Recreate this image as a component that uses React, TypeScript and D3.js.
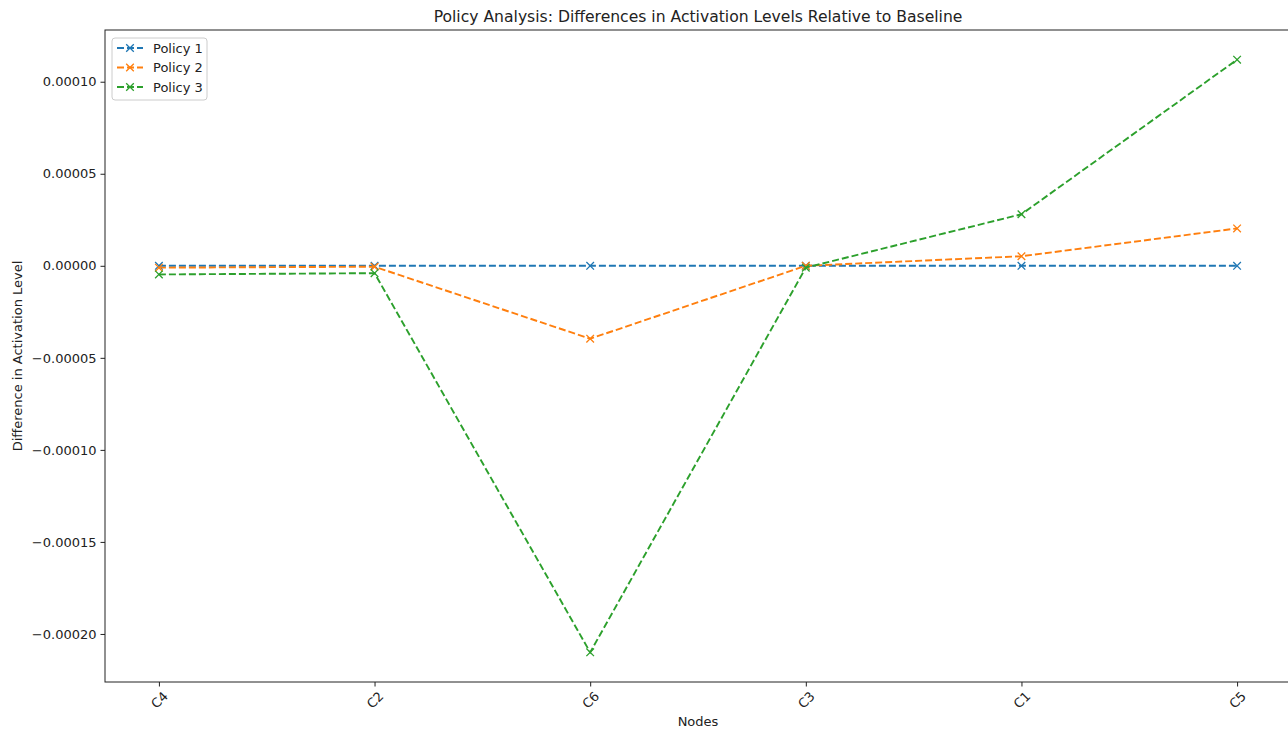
import React, { useEffect, useRef } from 'react';
import * as d3 from 'd3';

const nodes = ['C4', 'C2', 'C6', 'C3', 'C1', 'C5'];
const policy1 = [0, 0, 0, 0, 0, 0];
const policy2 = [-0.000001, -0.0000005, -0.0000396, 0, 0.0000052, 0.0000203];
const policy3 = [-0.0000047, -0.000004, -0.00021, -0.000001, 0.000028, 0.000112];
const seriesNames = ['Policy 1', 'Policy 2', 'Policy 3'];
const yTicks = [-0.0002, -0.00015, -0.0001, -0.00005, 0, 0.00005, 0.0001];

const colors = ['#1f77b4', '#ff7f0e', '#2ca02c'];

const App = () => {
  const ref = useRef<SVGSVGElement>(null);

  useEffect(() => {
    const width = 1288;
    const height = 730;
    const margin = { top: 30, right: -3, bottom: 48, left: 105 };
    const innerW = width - margin.left - margin.right;
    const innerH = height - margin.top - margin.bottom;
    const font = 'DejaVu Sans, sans-serif';

    const svg = d3.select(ref.current);
    svg.selectAll('*').remove();

    const g = svg.append('g').attr('transform', `translate(${margin.left},${margin.top})`);

    // matplotlib style 5% padding on both axes
    const xScale = d3
      .scalePoint<string>()
      .domain(nodes)
      .range([0, innerW])
      .padding(0.25);

    const allValues = [...policy1, ...policy2, ...policy3];
    const yMin = d3.min(allValues) as number;
    const yMax = d3.max(allValues) as number;
    const pad = (yMax - yMin) * 0.05;
    const yScale = d3
      .scaleLinear()
      .domain([yMin - pad, yMax + pad])
      .range([innerH, 0]);

    // frame
    g.append('rect')
      .attr('x', 0)
      .attr('y', 0)
      .attr('width', innerW)
      .attr('height', innerH)
      .attr('fill', 'none')
      .attr('stroke', '#222')
      .attr('stroke-width', 1);

    // Y axis
    const yAxis = g
      .append('g')
      .call(
        d3
          .axisLeft(yScale)
          .tickValues(yTicks)
          .tickSize(4.5)
          .tickPadding(4)
          .tickFormat((d) => {
            const s = (d as number).toFixed(5);
            return s.startsWith('-') ? '\u2212' + s.slice(1) : s;
          })
      );
    yAxis.select('.domain').remove();
    yAxis.selectAll('text').attr('font-family', font).attr('font-size', 13).attr('fill', '#222');
    yAxis.selectAll('line').attr('stroke', '#222');

    // X axis
    const xAxis = g
      .append('g')
      .attr('transform', `translate(0,${innerH})`)
      .call(d3.axisBottom(xScale).tickSize(4.5).tickPadding(0));
    xAxis.select('.domain').remove();
    xAxis.selectAll('line').attr('stroke', '#222');
    xAxis
      .selectAll('text')
      .attr('font-family', font)
      .attr('font-size', 13)
      .attr('fill', '#222')
      .attr('text-anchor', 'middle')
      .attr('dy', '0.35em')
      .attr('y', 0)
      .attr('transform', 'translate(0,18) rotate(-45)');

    // lines
    const series = [policy1, policy2, policy3];
    const line = d3
      .line<number>()
      .x((d, i) => xScale(nodes[i]) as number)
      .y((d) => yScale(d));

    series.forEach((values, si) => {
      g.append('path')
        .datum(values)
        .attr('d', line)
        .attr('fill', 'none')
        .attr('stroke', colors[si])
        .attr('stroke-width', 1.9)
        .attr('stroke-dasharray', '7,3');

      const m = 3.8;
      values.forEach((v, i) => {
        const cx = xScale(nodes[i]) as number;
        const cy = yScale(v);
        g.append('path')
          .attr('d', `M${cx - m},${cy - m}L${cx + m},${cy + m}M${cx - m},${cy + m}L${cx + m},${cy - m}`)
          .attr('stroke', colors[si])
          .attr('stroke-width', 1.3);
      });
    });

    // legend
    const legend = g.append('g').attr('transform', 'translate(7,8)');
    legend
      .append('rect')
      .attr('width', 95)
      .attr('height', 62)
      .attr('rx', 3)
      .attr('fill', 'white')
      .attr('fill-opacity', 0.8)
      .attr('stroke', '#ccc');
    seriesNames.forEach((name, i) => {
      const y = 10 + i * 19.5;
      legend
        .append('line')
        .attr('x1', 5)
        .attr('x2', 31)
        .attr('y1', y)
        .attr('y2', y)
        .attr('stroke', colors[i])
        .attr('stroke-width', 1.9)
        .attr('stroke-dasharray', '7,3');
      const m = 3.8;
      legend
        .append('path')
        .attr('d', `M${18 - m},${y - m}L${18 + m},${y + m}M${18 - m},${y + m}L${18 + m},${y - m}`)
        .attr('stroke', colors[i])
        .attr('stroke-width', 1.3);
      legend
        .append('text')
        .attr('x', 41)
        .attr('y', y)
        .attr('dy', '0.35em')
        .attr('font-family', font)
        .attr('font-size', 13)
        .attr('fill', '#222')
        .text(name);
    });

    // title and axis labels
    svg
      .append('text')
      .attr('x', margin.left + innerW / 2)
      .attr('y', 22)
      .attr('text-anchor', 'middle')
      .attr('font-family', font)
      .attr('font-size', 15.6)
      .attr('fill', '#222')
      .text('Policy Analysis: Differences in Activation Levels Relative to Baseline');

    svg
      .append('text')
      .attr('x', margin.left + innerW / 2)
      .attr('y', 726)
      .attr('text-anchor', 'middle')
      .attr('font-family', font)
      .attr('font-size', 13)
      .attr('fill', '#222')
      .text('Nodes');

    svg
      .append('text')
      .attr('transform', `translate(22,${margin.top + innerH / 2}) rotate(-90)`)
      .attr('text-anchor', 'middle')
      .attr('font-family', font)
      .attr('font-size', 13)
      .attr('fill', '#222')
      .text('Difference in Activation Level');
  }, []);

  return (
    <div style={{ position: 'absolute', left: 0, top: 0 }}>
      <svg ref={ref} width={1288} height={730} style={{ display: 'block', background: 'white' }}></svg>
    </div>
  );
};

export default App;
